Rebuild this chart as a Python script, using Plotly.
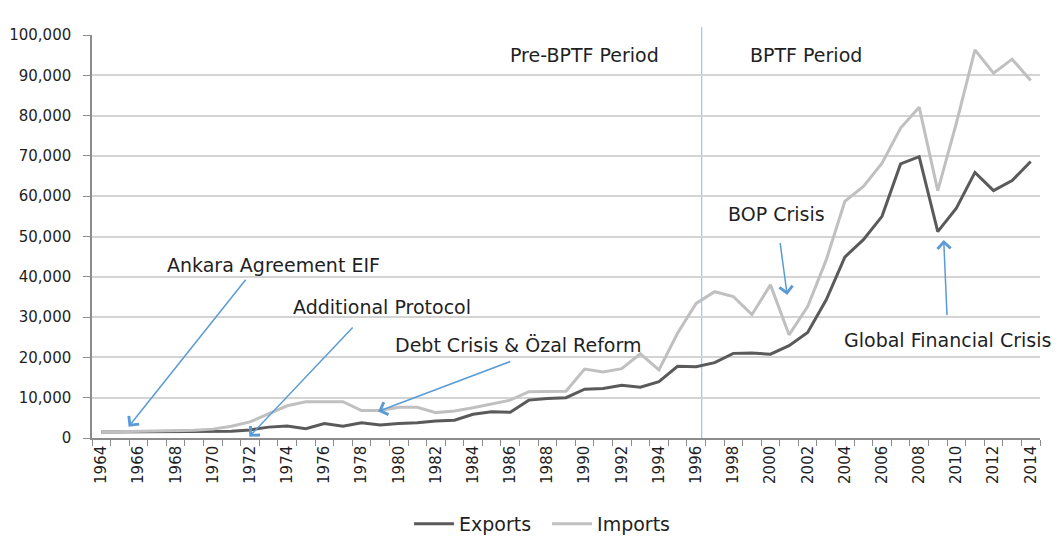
import plotly.graph_objects as go

years = list(range(1964, 2015))
exports = [1500, 1500, 1500, 1500, 1500, 1500, 1550, 1650, 2000, 2700,
           3000, 2300, 3600, 2900, 3800, 3200, 3600, 3800, 4200, 4400,
           5900, 6500, 6400, 9400, 9800, 10000, 12100, 12300, 13100, 12600,
           14000, 17800, 17700, 18700, 21000, 21100, 20800, 22900, 26200, 34300,
           44900, 49200, 55000, 68000, 69800, 51200, 57000, 65900, 61400, 63900,
           68600]
imports = [1500, 1600, 1700, 1700, 1800, 1900, 2200, 2900, 4000, 6000,
           8000, 9000, 9000, 9000, 6800, 6800, 7600, 7600, 6300, 6700,
           7500, 8400, 9400, 11500, 11600, 11600, 17100, 16400, 17200, 20900,
           16900, 26000, 33400, 36300, 35100, 30600, 38000, 25600, 32600, 44200,
           58700, 62400, 68200, 76900, 82100, 61400, 78100, 96300, 90500, 94000,
           88700]
y_ticks = [0, 10000, 20000, 30000, 40000, 50000, 60000, 70000, 80000, 90000, 100000]
x_labels = list(range(1964, 2015, 2))

FONT = "DejaVu Sans"
TXT = "#1f1f1f"
ARROW = "#5b9bd5"

fig = go.Figure()
fig.add_trace(go.Scatter(x=years, y=exports, mode="lines", name="Exports",
                         line=dict(color="#5a5a5a", width=3)))
fig.add_trace(go.Scatter(x=years, y=imports, mode="lines", name="Imports",
                         line=dict(color="#c0c0c0", width=3)))

# vertical separator
fig.add_shape(type="line", x0=1996.3, x1=1996.3, y0=0, y1=1.02, xref="x", yref="paper",
              line=dict(color="#9dc3e6", width=1.2), layer="below")

# arrows: (head_x, head_y, tail_x, tail_y)
arrows = [
    (1965.47, 2800, 1971.83, 39630),
    (1971.96, 300, 1977.60, 27790),
    (1978.89, 6580, 1986.08, 19110),
    (2000.90, 35480, 2000.51, 48710),
    (2009.32, 49130, 2009.50, 30100),
]
for hx, hy, tx, ty in arrows:
    fig.add_annotation(x=hx, y=hy, ax=tx, ay=ty, xref="x", yref="y", axref="x", ayref="y",
                       text="", showarrow=True, arrowhead=4, arrowsize=1.7,
                       arrowwidth=1.5, arrowcolor=ARROW)

labels = [
    ("Ankara Agreement EIF", 1967.45, 42930),
    ("Additional Protocol", 1974.21, 32510),
    ("Debt Crisis & Özal Reform", 1979.70, 23080),
    ("Pre-BPTF Period", 1985.89, 95040),
    ("BPTF Period", 1998.78, 95040),
    ("BOP Crisis", 1997.60, 55580),
    ("Global Financial Crisis", 2003.84, 24320),
]
for t, x, y in labels:
    fig.add_annotation(x=x, y=y, xref="x", yref="y", text=t, showarrow=False,
                       xanchor="left", yanchor="middle",
                       font=dict(family=FONT, size=19, color=TXT))

fig.update_layout(
    width=1061, height=550,
    margin=dict(l=84, r=29, t=27, b=120, autoexpand=False),
    paper_bgcolor="white", plot_bgcolor="white",
    font=dict(family=FONT, color=TXT),
    showlegend=True,
    legend=dict(orientation="h", x=0.480, xanchor="center", y=-0.213, yanchor="middle",
                font=dict(family=FONT, size=19, color=TXT), itemwidth=40,
                entrywidth=83, entrywidthmode="pixels"),
)
fig.update_xaxes(range=[1963.5, 2014.5], tickmode="array", tickvals=x_labels,
                 ticktext=[str(v) for v in x_labels], tickangle=-90,
                 tickfont=dict(family=FONT, size=15, color=TXT),
                 ticks="", showgrid=False, zeroline=False, automargin=False,
                 showline=True, linecolor="#8c8c8c", linewidth=1.5,
                 minor=dict(tickvals=[y - 0.5 for y in range(1964, 2016)],
                            ticks="outside", ticklen=6, tickcolor="#8c8c8c",
                            tickwidth=1, showgrid=False))
fig.update_yaxes(range=[0, 100000], tickmode="array", tickvals=y_ticks,
                 ticktext=[f"{v:,}" for v in y_ticks],
                 tickfont=dict(family=FONT, size=15, color=TXT),
                 ticks="outside", ticklen=7, tickcolor="#8c8c8c", ticklabelstandoff=9,
                 automargin=False,
                 showgrid=True, gridcolor="#d4d4d4", gridwidth=1.5, zeroline=False,
                 showline=True, linecolor="#8c8c8c", linewidth=1.5)

fig.write_html("out.html")
